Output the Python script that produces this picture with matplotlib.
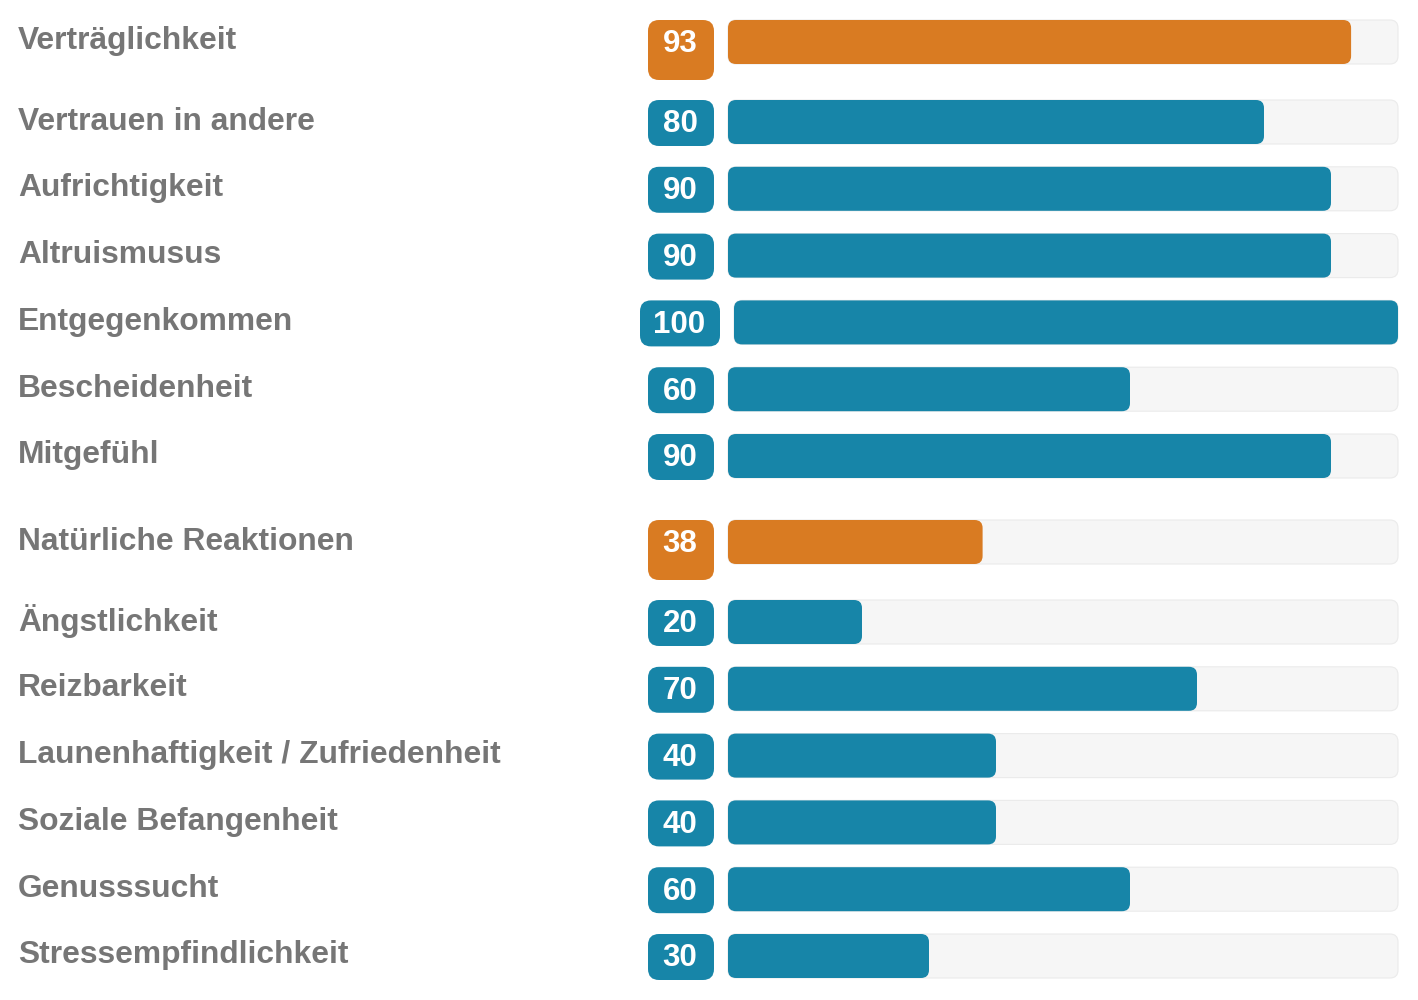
import matplotlib
matplotlib.use("Agg")
import matplotlib.pyplot as plt
from matplotlib.patches import FancyBboxPatch

# data
labels = ["Verträglichkeit", "Vertrauen in andere", "Aufrichtigkeit", "Altruismusus",
          "Entgegenkommen", "Bescheidenheit", "Mitgefühl",
          "Natürliche Reaktionen", "Ängstlichkeit", "Reizbarkeit",
          "Launenhaftigkeit / Zufriedenheit", "Soziale Befangenheit", "Genusssucht",
          "Stressempfindlichkeit"]
values = [93, 80, 90, 90, 100, 60, 90, 38, 20, 70, 40, 40, 60, 30]
is_header = [True, False, False, False, False, False, False,
             True, False, False, False, False, False, False]

orange = "#d97b22"
blue = "#1785a8"
track_col = "#f6f6f6"
label_col = "#767676"

plt.rcParams["font.family"] = ["Liberation Sans", "DejaVu Sans"]

fig = plt.figure(figsize=(14.18, 10), dpi=100)
ax = fig.add_axes([0, 0, 1, 1])
ax.set_xlim(0, 1418)
ax.set_ylim(1000, 0)
ax.axis("off")

# layout in pixels
bar_h = 44
track_end = 1398
y = 20
for i, (lab, val, hd) in enumerate(zip(labels, values, is_header)):
    col = orange if hd else blue
    if val >= 100:
        bx0, bx1 = 640, 720
    else:
        bx0, bx1 = 648, 714
    start = bx1 + 14
    badge_h = 60 if hd else 46
    ax.add_patch(FancyBboxPatch((bx0, y), bx1 - bx0, badge_h,
                                boxstyle="round,pad=0,rounding_size=11",
                                fc=col, ec="none"))
    ax.text((bx0 + bx1) / 2 - 1, y + bar_h / 2 + 2.5, str(val), color="white",
            fontsize=22.5, fontweight="bold", ha="center", va="center")
    # track
    ax.add_patch(FancyBboxPatch((start, y), track_end - start, bar_h,
                                boxstyle="round,pad=0,rounding_size=8",
                                fc=track_col, ec="#ebebeb", lw=0.8))
    w = (track_end - start) * val / 100
    ax.add_patch(FancyBboxPatch((start, y), w, bar_h,
                                boxstyle="round,pad=0,rounding_size=8",
                                fc=col, ec="none"))
    ax.text(18, y + 21.5, lab, color=label_col, fontsize=22.9,
            fontweight="bold", ha="left", va="center")
    # next row
    if hd:
        y += 80
    elif i + 1 < len(is_header) and is_header[i + 1]:
        y += 86
    else:
        y += 66.8

fig.savefig("out.png", dpi=100)
